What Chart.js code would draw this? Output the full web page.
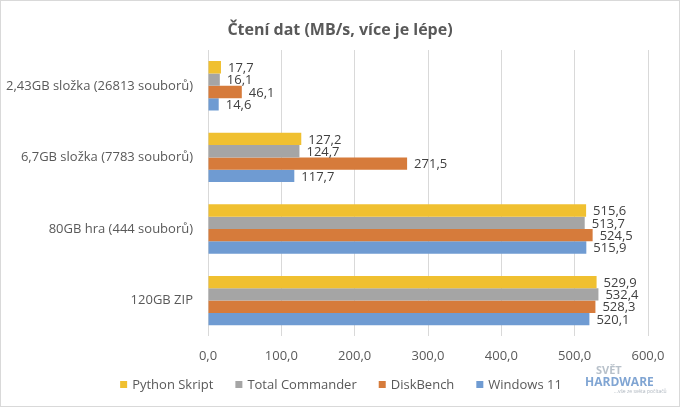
<!DOCTYPE html>
<html>
<head>
    <title>Čtení dat</title>
    <script src="https://cdn.jsdelivr.net/npm/chart.js@4/dist/chart.umd.min.js"></script>
    <style>
        body { margin: 0; background: #fff; }
    </style>
</head>
<body>
    <canvas id="myChart" width="680" height="407"></canvas>
</body>
<script>
    // test categories (top to bottom)
    const categories = [
        '2,43GB složka (26813 souborů)',
        '6,7GB složka (7783 souborů)',
        '80GB hra (444 souborů)',
        '120GB ZIP'
    ];

    // read speeds in MB/s
    const pythonSkript = [17.7, 127.2, 515.6, 529.9];
    const totalCommander = [16.1, 124.7, 513.7, 532.4];
    const diskBench = [46.1, 271.5, 524.5, 528.3];
    const windows11 = [14.6, 117.7, 515.9, 520.1];

    const seriesNames = ['Python Skript', 'Total Commander', 'DiskBench', 'Windows 11'];
    const seriesColors = ['#F0C030', '#A5A5A5', '#D67B3B', '#6F9BD2'];

    const chartTitle = 'Čtení dat (MB/s, více je lépe)';
    const textColor = '#595959';
    const fontFamily = "'Open Sans', sans-serif";

    const fmt = v => v.toFixed(1).replace('.', ',');

    // numbers to the right of each bar
    const barLabels = {
        id: 'barLabels',
        afterDatasetsDraw(chart) {
            const ctx = chart.ctx;
            ctx.save();
            ctx.font = '13px ' + fontFamily;
            ctx.fillStyle = '#404040';
            ctx.textAlign = 'left';
            ctx.textBaseline = 'middle';
            chart.data.datasets.forEach((ds, i) => {
                chart.getDatasetMeta(i).data.forEach((bar, j) => {
                    ctx.fillText(fmt(ds.data[j]), bar.x + 7, bar.y + 1);
                });
            });
            ctx.restore();
        }
    };

    // title + legend centred on the whole picture (like excel does it)
    const titleAndLegend = {
        id: 'titleAndLegend',
        afterDraw(chart) {
            const ctx = chart.ctx;
            const mid = chart.width / 2;
            ctx.save();
            ctx.fillStyle = textColor;
            ctx.textBaseline = 'middle';
            ctx.textAlign = 'center';
            ctx.font = 'bold 16px ' + fontFamily;
            ctx.fillText(chartTitle, mid, 30);

            ctx.font = '13px ' + fontFamily;
            ctx.textAlign = 'left';
            const items = chart.data.datasets.map(ds => ({
                text: ds.label,
                color: ds.backgroundColor,
                w: 12 + ctx.measureText(ds.label).width
            }));
            const gap = 22;
            const total = items.reduce((s, it) => s + it.w, 0) + gap * (items.length - 1);
            let x = mid + 1 - total / 2;
            const y = 385;
            items.forEach(it => {
                ctx.fillStyle = it.color;
                ctx.fillRect(x, y - 4, 7, 7);
                ctx.fillStyle = textColor;
                ctx.fillText(it.text, x + 12, y);
                x += it.w + gap;
            });
            ctx.restore();
        }
    };

    // white background, frame and the watermark
    const frame = {
        id: 'frame',
        beforeDraw(chart) {
            const ctx = chart.ctx;
            ctx.save();
            ctx.fillStyle = '#fff';
            ctx.fillRect(0, 0, chart.width, chart.height);
            ctx.restore();
        },
        afterDraw(chart) {
            const ctx = chart.ctx;
            ctx.save();
            ctx.strokeStyle = '#D9D9D9';
            ctx.lineWidth = 1;
            ctx.strokeRect(0.5, 0.5, chart.width - 1, chart.height - 1);
            ctx.globalAlpha = 0.7;
            ctx.textAlign = 'left';
            ctx.textBaseline = 'alphabetic';
            ctx.fillStyle = '#9aa6b4';
            ctx.font = 'bold 11px ' + fontFamily;
            ctx.fillText('SVĚT', 596, 374);
            ctx.fillStyle = '#4a7fc0';
            ctx.font = 'bold 12px ' + fontFamily;
            ctx.fillText('HARDWARE', 585, 386);
            ctx.fillStyle = '#8a95a3';
            ctx.font = '5px ' + fontFamily;
            ctx.fillText('...vše ze světa počítačů', 614, 393);
            ctx.restore();
        }
    };

    const datasets = [pythonSkript, totalCommander, diskBench, windows11].map((d, i) => ({
        label: seriesNames[i],
        data: d,
        backgroundColor: seriesColors[i],
        borderWidth: 0,
        categoryPercentage: 0.69,
        barPercentage: 1.0
    }));

    const canvas = document.getElementById('myChart');

    const myChart = new Chart(canvas, {
        type: 'bar',
        data: { labels: categories, datasets: datasets },
        options: {
            indexAxis: 'y',
            responsive: false,
            animation: false,
            devicePixelRatio: 1,
            layout: { padding: { top: 50, right: 32, bottom: 31, left: 0 } },
            plugins: {
                title: { display: false },
                legend: { display: false },
                tooltip: { enabled: false }
            },
            scales: {
                x: {
                    min: 0,
                    max: 600,
                    ticks: {
                        stepSize: 100,
                        color: textColor,
                        font: { family: fontFamily, size: 13 },
                        padding: 12,
                        callback: v => fmt(v)
                    },
                    grid: { color: '#D9D9D9', drawTicks: false },
                    border: { display: false }
                },
                y: {
                    ticks: {
                        color: textColor,
                        font: { family: fontFamily, size: 13 },
                        padding: 15
                    },
                    grid: { display: false, drawTicks: false },
                    border: { display: false },
                    afterFit(scale) { scale.width = 208; }
                }
            }
        },
        plugins: [barLabels, titleAndLegend, frame]
    });
</script>
</html>
